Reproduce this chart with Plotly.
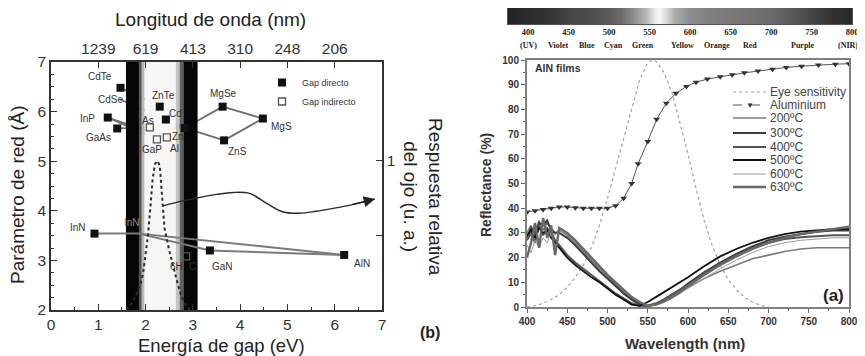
import plotly.graph_objects as go

# page body has an 8px margin: the figure is drawn from (8, 8) to (865, 356)
OFF = 8
W, H = 865 - OFF, 356 - OFF


def fx(p):
    return (p - OFF) / W


def fy(p):
    return 1 - (p - OFF) / H


# ---------------- Left chart (b) data ----------------
top_tick_ev = [1, 2, 3, 4, 5, 6]
top_tick_nm = ["1239", "619", "413", "310", "248", "206"]

direct_names = ["CdTe", "ZnTe", "CdS", "ZnSe", "MgSe", "MgS", "ZnS", "InP", "GaAs", "InN", "GaN", "AlN"]
direct_gap = [1.47, 2.30, 2.43, 2.83, 3.63, 4.48, 3.66, 1.20, 1.40, 0.92, 3.36, 6.20]
direct_lattice = [6.48, 6.10, 5.84, 5.67, 6.10, 5.86, 5.42, 5.88, 5.66, 3.54, 3.20, 3.11]

indirect_names = ["AlAs", "GaP", "AlP", "6H-SiC"]
indirect_gap = [2.09, 2.24, 2.45, 2.86]
indirect_lattice = [5.68, 5.44, 5.48, 3.08]

hidden_names = ["CdSe", "InN*"]
hidden_gap = [1.45, 1.86]
hidden_lattice = [6.25, 3.54]

upper_ties = [("CdTe", "ZnTe"), ("CdSe", "ZnSe"), ("ZnSe", "MgSe"), ("MgSe", "MgS"),
              ("MgS", "ZnS"), ("ZnS", "ZnSe"), ("GaAs", "AlAs"), ("AlAs", "ZnSe"),
              ("InP", "GaP"), ("InP", "AlP")]
nitride_ties = [("InN", "InN*"), ("InN*", "GaN"), ("InN*", "AlN"), ("GaN", "AlN")]

label_text = ["CdTe", "CdSe", "ZnTe", "Cd", "MgSe", "MgS", "ZnS", "InP", "GaAs", "As",
              "GaP", "Al", "Zn", "InN", "InN", "6H", "C", "GaN", "AlN"]
label_ev = [1.04, 1.25, 2.37, 2.64, 3.64, 4.88, 3.95, 0.78, 1.00, 2.05,
            2.14, 2.62, 2.69, 0.57, 1.71, 2.66, 3.00, 3.62, 6.58]
label_a = [6.70, 6.25, 6.33, 5.97, 6.37, 5.69, 5.20, 5.87, 5.47, 5.83,
           5.23, 5.25, 5.49, 3.67, 3.77, 2.87, 2.87, 2.87, 2.93]

# visible-spectrum band (grey levels across the band, in eV)
band_lo = [1.585, 1.86, 1.92, 1.98, 2.64, 2.72, 2.80]
band_hi = [1.86, 1.92, 1.98, 2.64, 2.72, 2.80, 3.10]
band_col = ["#050505", "#555555", "#b8b8b8", "#f6f6f6", "#c4c4c4", "#606060", "#050505"]

eye_ev = [1.60, 1.70, 1.80, 1.90, 1.95, 2.00, 2.05, 2.10, 2.15, 2.20, 2.25, 2.30, 2.35,
          2.40, 2.50, 2.60, 2.66, 2.75, 2.85, 2.94]
eye_resp = [0.00, 0.04, 0.10, 0.18, 0.25, 0.36, 0.50, 0.68, 0.88, 0.98, 1.00, 0.97, 0.78,
            0.55, 0.40, 0.27, 0.20, 0.10, 0.03, 0.00]

arrow_ev = [2.37, 2.79, 3.15, 3.50, 3.85, 4.20, 4.56, 4.90, 5.26, 5.60, 5.97, 6.35, 6.85]
arrow_a = [4.10, 4.20, 4.27, 4.33, 4.37, 4.35, 4.15, 3.98, 3.95, 3.99, 4.05, 4.12, 4.24]

# ---------------- Right chart (a) data ----------------
bar_wl = [375, 400, 425, 450, 475, 500, 515, 530, 545, 555, 562, 570, 580, 600, 625, 650,
          675, 700, 725, 750, 775, 800]
bar_level = [0.13, 0.17, 0.20, 0.27, 0.30, 0.36, 0.42, 0.55, 0.72, 0.90, 0.97, 0.85, 0.68,
             0.55, 0.50, 0.47, 0.45, 0.42, 0.35, 0.27, 0.20, 0.15]
bar_ticks = [400, 450, 500, 550, 600, 650, 700, 750, 800]
spectrum_names = ["(UV)", "Violet", "Blue", "Cyan", "Green", "Yellow", "Orange", "Red", "Purple", "(NIR)"]
spectrum_name_wl = [400, 437, 473, 505, 542, 591, 633, 674, 739, 795]

eye_wl = [400, 410, 420, 430, 440, 450, 460, 470, 480, 490, 500, 510, 520, 530, 540, 550,
          557, 560, 570, 580, 590, 600, 610, 620, 630, 640, 650, 660, 670, 680, 690, 700]
eye_sens = [0, 0.5, 1.5, 3, 5, 8, 12, 17, 24, 33, 44, 56, 69, 81, 92, 99,
            100, 99.5, 95, 87, 75, 62, 48, 35, 25, 17, 11, 7, 4, 2, 0.7, 0]

al_wl = [400, 410, 420, 430, 440, 450, 460, 470, 480, 490, 500, 510, 520, 530, 538, 550,
         561, 573, 585, 598, 610, 624, 640, 655, 670, 687, 705, 722, 741, 762, 783, 800]
al_refl = [38.5, 39, 39.5, 40, 40.5, 40.5, 40.2, 40, 40, 40, 40, 41, 44, 50, 58, 67,
           76, 82.5, 86.5, 89.3, 91, 92.3, 93.2, 94, 94.8, 95.5, 96.3, 97, 97.5, 98, 98.3, 98.5]

film_wl = [400, 405, 410, 415, 420, 425, 430, 435, 440, 445, 450, 460, 470, 480, 490, 500,
           510, 520, 530, 540, 550, 560, 570, 580, 590, 600, 620, 640, 660, 680, 700, 720,
           740, 760, 780, 800]
refl_200 = [30, 33, 29, 35, 31, 34, 32, 30, 31, 30, 29, 26, 22.5, 19, 15.5, 12.5,
            9, 6, 3.5, 1.5, 0.5, 1, 2.5, 4, 6, 8, 11.5, 14.5, 17, 19.5, 21, 22.5,
            23.5, 24, 24, 24]
refl_300 = [28, 32, 30, 34, 33, 35, 31, 30, 30, 29, 28, 25, 21.5, 18, 14.5, 11.5,
            8.5, 5.5, 3, 1, 0.3, 1.2, 3, 5, 7, 9.5, 14, 18, 21.5, 24.5, 27, 28.5,
            29.5, 30.5, 31, 31]
refl_400 = [27, 30, 26, 33, 29, 32, 30, 27, 25, 23, 21, 18, 15.5, 13, 10.5, 8,
            5.5, 3.5, 1.5, 0.5, 0.5, 1.5, 3, 5, 7, 9, 13.5, 17.5, 21, 24, 26, 27.5,
            28.2, 28.7, 29, 29]
refl_500 = [29, 31, 28, 32, 30, 31, 28, 26, 24, 22, 20, 17, 14.5, 12, 10, 7.5,
            5, 3, 1, 0.5, 2, 4, 6, 8, 10, 12, 16.5, 20.5, 23.5, 26, 28, 29.5,
            30.5, 31, 31.5, 31.5]
refl_600 = [25, 22, 27, 24, 28, 26, 30, 29, 31, 30, 29.5, 26.5, 23, 19.5, 16, 13,
            9.5, 6.5, 4, 1.8, 0.6, 0.8, 2, 3.5, 5.5, 7.5, 11.5, 15.5, 19, 22, 24.5, 26,
            27, 27.5, 28, 28]
refl_630 = [20, 26, 34, 24, 36, 28, 33, 21, 32, 31, 30, 27, 23.5, 20, 16.5, 13,
            10, 7, 4, 2, 0.5, 1, 2.2, 4, 6, 8.5, 13, 17, 20.5, 23.5, 26, 28,
            29.5, 30.5, 31.5, 32.5]

film_names = ["200ºC", "300ºC", "400ºC", "500ºC", "600ºC", "630ºC"]
film_series = [refl_200, refl_300, refl_400, refl_500, refl_600, refl_630]
film_colors = ["#7a7a7a", "#3c3c3c", "#555555", "#111111", "#9a9a9a", "#686868"]
film_widths = [1.6, 2.0, 2.0, 1.8, 1.0, 2.4]

# ---------------- Figure ----------------
fig = go.Figure()
pos = {}
for n, g, a in zip(direct_names + indirect_names + hidden_names,
                   direct_gap + indirect_gap + hidden_gap,
                   direct_lattice + indirect_lattice + hidden_lattice):
    pos[n] = (g, a)


def tie_xy(ties):
    xs, ys = [], []
    for a, b in ties:
        xs += [pos[a][0], pos[b][0], None]
        ys += [pos[a][1], pos[b][1], None]
    return xs, ys


tx, ty = tie_xy(upper_ties)
fig.add_trace(go.Scatter(x=tx, y=ty, mode="lines", line=dict(color="#6e6e6e", width=1.8),
                         showlegend=False, hoverinfo="skip", xaxis="x", yaxis="y"))

for lo, hi, c in zip(band_lo, band_hi, band_col):
    fig.add_trace(go.Scatter(x=[lo, hi, hi, lo, lo], y=[2, 2, 7, 7, 2], mode="lines",
                             fill="toself", fillcolor=c, line=dict(width=0, color=c),
                             showlegend=False, hoverinfo="skip", xaxis="x", yaxis="y"))

fig.add_trace(go.Scatter(x=eye_ev, y=eye_resp, mode="lines", line=dict(color="#2a2a2a", width=2, dash="dot"),
                         showlegend=False, xaxis="x", yaxis="y2"))

fig.add_trace(go.Scatter(x=arrow_ev, y=arrow_a, mode="lines", line=dict(color="#2a2a2a", width=1.4, shape="spline"),
                         showlegend=False, xaxis="x", yaxis="y"))

nx, ny = tie_xy(nitride_ties)
fig.add_trace(go.Scatter(x=nx, y=ny, mode="lines", line=dict(color="#7a7a7a", width=2),
                         showlegend=False, hoverinfo="skip", xaxis="x", yaxis="y"))

fig.add_trace(go.Scatter(x=direct_gap, y=direct_lattice, mode="markers", name="Gap directo",
                         marker=dict(symbol="square", size=8, color="#111111"),
                         text=direct_names, xaxis="x", yaxis="y", legend="legend"))
fig.add_trace(go.Scatter(x=indirect_gap, y=indirect_lattice, mode="markers", name="Gap indirecto",
                         marker=dict(symbol="square-open", size=7, color="#555555", line=dict(width=1.3)),
                         text=indirect_names, xaxis="x", yaxis="y", legend="legend"))

# dummy trace so the overlaying axes render
fig.add_trace(go.Scatter(x=[None], y=[None], xaxis="x2", yaxis="y", showlegend=False))

# colour strip
fig.add_trace(go.Heatmap(x=bar_wl, y=[-1, 1], z=[bar_level, bar_level], zmin=0, zmax=1,
                         colorscale=[[0, "#000000"], [1, "#ffffff"]], showscale=False,
                         zsmooth="best", xaxis="x4", yaxis="y4", hoverinfo="skip"))

# right chart
fig.add_trace(go.Scatter(x=eye_wl, y=eye_sens, mode="lines", name="Eye sensitivity",
                         line=dict(color="#a0a0a0", width=1.2, dash="dot"),
                         showlegend=False, xaxis="x3", yaxis="y3"))
for name, ser, c, w in zip(film_names, film_series, film_colors, film_widths):
    fig.add_trace(go.Scatter(x=film_wl, y=ser, mode="lines", name=name,
                             line=dict(color=c, width=w), showlegend=False,
                             xaxis="x3", yaxis="y3"))
fig.add_trace(go.Scatter(x=al_wl, y=al_refl, mode="lines+markers", name="Aluminium",
                         line=dict(color="#555555", width=1),
                         marker=dict(symbol="triangle-down", size=6, color="#333333"),
                         showlegend=False, xaxis="x3", yaxis="y3"))

left_font = dict(family="Liberation Sans, Arial, sans-serif", size=15.5, color="#333333")
bold_font = dict(family="Liberation Sans, Arial, sans-serif", size=10, color="#333333", weight="bold")

common = dict(automargin=False, showgrid=False, zeroline=False)
fig.update_layout(
    width=W, height=H, autosize=False,
    margin=dict(l=0, r=0, t=0, b=0, pad=0, autoexpand=False),
    paper_bgcolor="white", plot_bgcolor="rgba(0,0,0,0)",
    xaxis=dict(domain=[fx(51), fx(382)], range=[0, 7], tickvals=list(range(8)),
               ticks="inside", ticklen=6, tickcolor="#333", showline=True, linecolor="#333",
               linewidth=1.5, tickfont=left_font, anchor="y",
               minor=dict(ticks="inside", ticklen=3, dtick=0.5, tickcolor="#333"), **common),
    xaxis2=dict(overlaying="x", side="top", range=[0, 7], tickvals=top_tick_ev, ticktext=top_tick_nm,
                ticks="inside", ticklen=6, tickcolor="#333", showline=True, linecolor="#333",
                linewidth=1.5, tickfont=left_font, anchor="y", **common),
    yaxis=dict(domain=[fy(310), fy(62)], range=[2, 7], dtick=1, ticks="inside", ticklen=6,
               tickcolor="#333", showline=True, linecolor="#333", linewidth=1.5,
               tickfont=left_font, anchor="x",
               minor=dict(ticks="inside", ticklen=3, dtick=0.25, tickcolor="#333"), **common),
    yaxis2=dict(overlaying="y", side="right", range=[0, 1.664], tickvals=[0.5, 1], ticktext=["", "1"],
                ticks="inside", ticklen=6, tickcolor="#333", showline=True, linecolor="#333",
                linewidth=1.5, tickfont=left_font, anchor="x", **common),
    xaxis3=dict(domain=[fx(527), fx(849)], range=[400, 800], dtick=50, ticks="outside", ticklen=4,
                tickcolor="#666", showline=True, mirror=True, linecolor="#808080", linewidth=2,
                tickfont=bold_font, anchor="y3",
                minor=dict(ticks="outside", ticklen=2, dtick=25, tickcolor="#666"), **common),
    yaxis3=dict(domain=[fy(307), fy(60)], range=[0, 100], dtick=10, ticks="outside", ticklen=4,
                tickcolor="#666", showline=True, mirror=True, linecolor="#808080", linewidth=2,
                tickfont=bold_font, anchor="x3",
                minor=dict(ticks="outside", ticklen=2, dtick=5, tickcolor="#666"), **common),
    xaxis4=dict(domain=[fx(508), fx(852)], range=[375, 800], tickvals=bar_ticks, ticks="",
                showline=True, mirror=True, linecolor="#555", linewidth=1, anchor="y4",
                tickfont=dict(family="Liberation Serif, serif", size=8.5, color="#222", weight="bold"),
                **common),
    yaxis4=dict(domain=[fy(24), fy(8)], range=[-0.5, 0.5], showticklabels=False, ticks="",
                showline=True, mirror=True, linecolor="#555", linewidth=1, anchor="x4", **common),
    legend=dict(x=fx(262), y=fy(68), xanchor="left", yanchor="top", bgcolor="rgba(0,0,0,0)",
                font=dict(family="Liberation Sans, Arial, sans-serif", size=9, color="#333")),
    showlegend=True,
)

ann = []


def paper_text(text, x, y, size, color="#222", angle=0, xanchor="center", bold=False, family="Liberation Sans, Arial"):
    ann.append(dict(text=("<b>%s</b>" % text) if bold else text, x=fx(x), y=fy(y), xref="paper",
                    yref="paper", xanchor=xanchor, yanchor="middle", textangle=angle, showarrow=False,
                    font=dict(family=family, size=size, color=color)))


# axis titles left chart
paper_text("Longitud de onda (nm)", 210, 20, 19)
paper_text("Energía de gap (eV)", 221, 345, 18.5)
paper_text("Parámetro de red (Å)", 17, 195, 19, angle=-90)
paper_text("Respuesta relativa<br>del ojo (u. a.)", 423, 197, 19, angle=90)
paper_text("(b)", 430, 332, 16, bold=True)
# compound labels
for t, xv, yv in zip(label_text, label_ev, label_a):
    col = "#8a8a8a" if (t == "InN" and xv > 1.5) else "#333"
    ann.append(dict(text=t, x=xv, y=yv, xref="x", yref="y", showarrow=False,
                    xanchor="center", yanchor="middle",
                    font=dict(family="Liberation Sans, Arial", size=10, color=col)))
# arrow head
ann.append(dict(x=arrow_ev[-1], y=arrow_a[-1], ax=arrow_ev[-2], ay=arrow_a[-2], xref="x", yref="y",
                axref="x", ayref="y", text="", showarrow=True, arrowhead=2, arrowsize=1.6,
                arrowwidth=1.4, arrowcolor="#222"))
# right chart texts
paper_text("AlN films", 533, 68, 10.5, color="#333", xanchor="left", bold=True)
paper_text("(a)", 833, 295, 17, bold=True)
paper_text("Reflectance (%)", 486, 185, 14, color="#333", angle=-90, bold=True)
paper_text("Wavelength (nm)", 685, 343, 15, color="#333", bold=True)
for t, wl in zip(spectrum_names, spectrum_name_wl):
    ann.append(dict(text=t, x=wl, y=fy(45), xref="x4", yref="paper", showarrow=False,
                    xanchor="center", yanchor="middle",
                    font=dict(family="Liberation Serif, serif", size=8, color="#222", weight="bold")))

# manual legend for right chart
leg_names = ["Eye sensitivity", "Aluminium"] + film_names
leg_colors = ["#a0a0a0", "#555555"] + film_colors
leg_widths = [1.2, 1.0] + film_widths
leg_dash = ["dot", "dash"] + ["solid"] * 6
leg_y = [92, 105, 118, 133, 147, 160, 174, 187]
shapes = []
for name, c, w, d, yy in zip(leg_names, leg_colors, leg_widths, leg_dash, leg_y):
    shapes.append(dict(type="line", xref="paper", yref="paper", x0=fx(733), x1=fx(766),
                       y0=fy(yy), y1=fy(yy), line=dict(color=c, width=w, dash=d)))
    paper_text(name, 768, yy, 12, color="#444", xanchor="left")
paper_text("▼", 749.5, 105, 8, color="#333")

fig.update_layout(annotations=ann, shapes=shapes)
fig.write_html("out.html")
